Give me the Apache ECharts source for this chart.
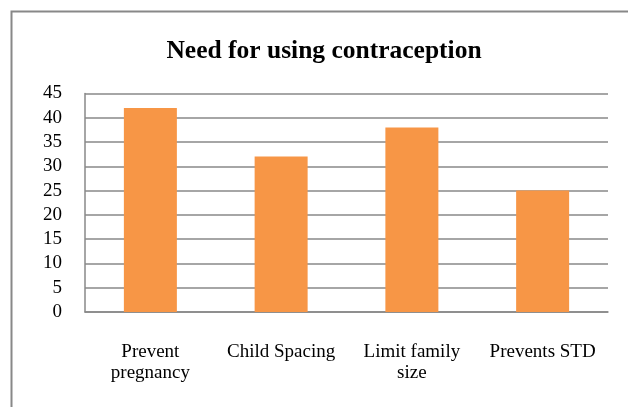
<!DOCTYPE html>
<html>
<head>
<meta charset="utf-8">
<script src="https://cdn.jsdelivr.net/npm/echarts@6/dist/echarts.min.js"></script>
<style>
  html, body { margin: 0; padding: 0; background: #fff; }
  #chart { width: 628px; height: 407px; }
</style>
</head>
<body>
<div id="chart"></div>
<script>
// Reasons given for using contraception
const categories = ['Prevent\npregnancy', 'Child Spacing', 'Limit family\nsize', 'Prevents STD'];
const values = [42, 32, 38, 25];
const yTicks = { min: 0, max: 45, step: 5 };

const chart = echarts.init(document.getElementById('chart'), null, { renderer: 'canvas' });
const serif = '"Liberation Serif", "Times New Roman", serif';
const gray = '#888888';

chart.setOption({
  backgroundColor: '#ffffff',
  animation: false,
  title: {
    text: 'Need for using contraception',
    left: 319,
    textAlign: 'center',
    top: 33,
    textStyle: { fontFamily: serif, fontWeight: 'bold', fontSize: 25.5, color: '#000' }
  },
  graphic: [{
    type: 'rect',
    shape: { x: 11.5, y: 11.5, width: 640, height: 420 },
    style: { fill: 'none', stroke: gray, lineWidth: 2 },
    silent: true
  }],
  grid: { left: 85, right: 20, top: 93.5, bottom: 95, containLabel: false },
  xAxis: {
    type: 'category',
    data: categories,
    axisLine: { show: true, lineStyle: { color: gray, width: 1.5 } },
    axisTick: { show: false },
    axisLabel: {
      interval: 0,
      margin: 30,
      fontFamily: serif,
      fontSize: 19,
      lineHeight: 21,
      color: '#000'
    }
  },
  yAxis: {
    type: 'value',
    min: yTicks.min,
    max: yTicks.max,
    interval: yTicks.step,
    axisLine: { show: true, lineStyle: { color: gray, width: 1.5 } },
    axisTick: { show: false },
    splitLine: { show: true, lineStyle: { color: gray, width: 1.5 } },
    axisLabel: {
      margin: 23,
      padding: [3, 0, 0, 0],
      fontFamily: serif,
      fontSize: 19,
      color: '#000'
    }
  },
  series: [{
    type: 'bar',
    data: values,
    barWidth: 53,
    itemStyle: { color: '#F79646' }
  }]
});
</script>
</body>
</html>
